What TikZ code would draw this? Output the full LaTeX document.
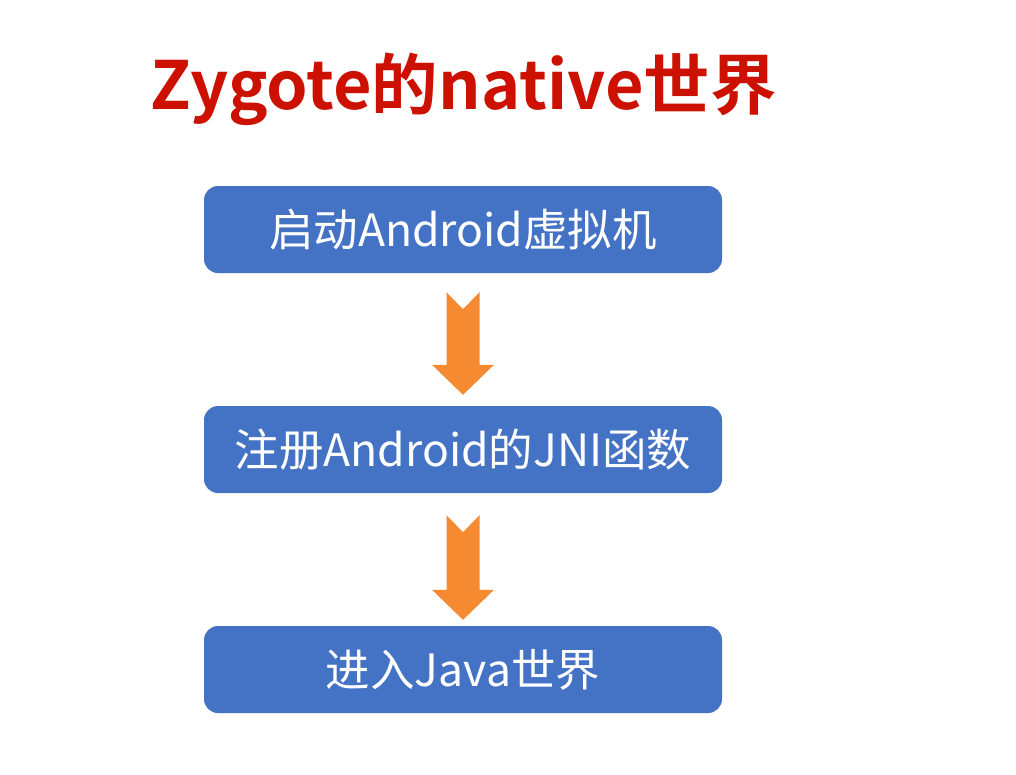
\documentclass[tikz,border=0pt]{standalone}
\usepackage{fontspec}
\newfontfamily\cjkreg{Noto Sans CJK SC}
\newfontfamily\cjkbold{Noto Sans CJK SC Bold}
\usetikzlibrary{calc}
\definecolor{boxblue}{HTML}{4472C4}
\definecolor{arroworange}{HTML}{F68A31}
\definecolor{titlered}{HTML}{CC1100}
\tikzset{
  stepbox/.style={fill=boxblue, draw=none, rounded corners=14pt, minimum width=518pt, minimum height=87pt, inner sep=0pt, text=white, font=\cjkreg\fontsize{44.5}{48}\selectfont},
  flowarrow/.style={fill=arroworange, draw=none}
}
\begin{document}
\begin{tikzpicture}[x=1pt,y=-1pt]
\useasboundingbox (0,0) rectangle (1016,774);
\fill[white] (0,0) rectangle (1016,774);
\node[anchor=base, text=titlered, font=\cjkbold\fontsize{66.5}{70}\selectfont, inner sep=0pt] (title) at (463.5,109) {Zygote的native世界};
\node[stepbox] (b1) at (463,229.5) {启动Android虚拟机};
\node[stepbox] (b2) at (463,449.5) {注册Android的JNI函数};
\node[stepbox] (b3) at (463,669.5) {进入Java世界};
% arrow 1
\fill[flowarrow] ($(b1.south)+(-16.5,19)$) -- ($(b1.south)+(0,36)$) -- ($(b1.south)+(16.5,19)$)
  -- ($(b2.north)+(16.5,-41)$) -- ($(b2.north)+(31,-41)$) -- ($(b2.north)+(0,-11)$)
  -- ($(b2.north)+(-31,-41)$) -- ($(b2.north)+(-16.5,-41)$) -- cycle;
% arrow 2
\fill[flowarrow] ($(b2.south)+(-16.5,22)$) -- ($(b2.south)+(0,39)$) -- ($(b2.south)+(16.5,22)$)
  -- ($(b3.north)+(16.5,-36)$) -- ($(b3.north)+(31,-36)$) -- ($(b3.north)+(0,-6)$)
  -- ($(b3.north)+(-31,-36)$) -- ($(b3.north)+(-16.5,-36)$) -- cycle;
\end{tikzpicture}
\end{document}
